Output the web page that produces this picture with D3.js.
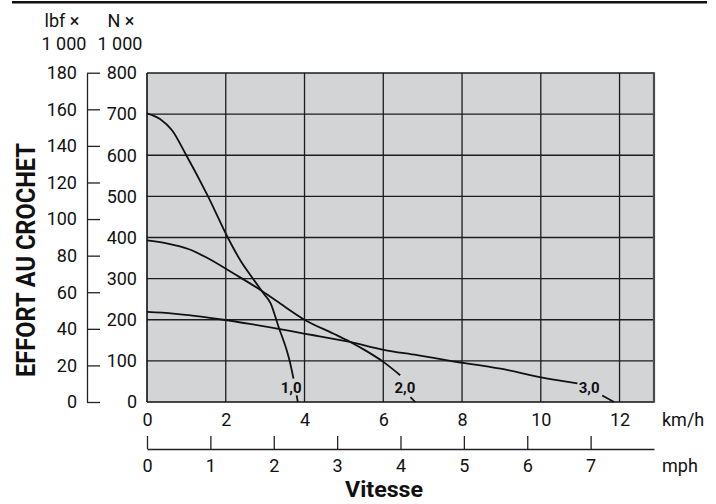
<!DOCTYPE html>
<html><head><meta charset="utf-8">
<script src="https://cdn.jsdelivr.net/npm/d3@7"></script>
<style>
html,body{margin:0;padding:0;background:#fff;}
svg{display:block;}
text{font-family:"Liberation Sans Narrow","Arial Narrow",Roboto,sans-serif;fill:#111;}
</style></head>
<body>
<svg id="c" width="716" height="504"></svg>
<script>
// ---- data (speed km/h, drawbar pull N x 1000) ----
const curve1Speed = [0, 0.33, 0.64, 0.97, 1.55, 2.05, 2.38, 2.66, 2.96, 3.14, 3.34, 3.55, 3.62, 3.72];
const curve1Force = [702, 688, 660, 605, 500, 400, 343, 304, 264, 240, 183, 125, 101, 57];
const curve1TailSpeed = [3.80, 3.83];
const curve1TailForce = [16, 0];
const curve2Speed = [0, 0.5, 1.05, 1.5, 2.19, 2.87, 3.3, 4.02, 4.74, 5.16, 5.5, 6.01, 6.43];
const curve2Force = [393, 386, 372, 352, 313, 273, 245, 199, 166, 146, 128, 97, 65];
const curve2TailSpeed = [6.69, 6.81];
const curve2TailForce = [12, 0];
const curve3Speed = [0, 0.67, 1.94, 2.61, 3.34, 3.89, 5.16, 6.01, 6.86, 7.7, 8.98, 10.04, 10.93];
const curve3Force = [219, 215, 200, 190, 178, 168, 146, 127, 114, 100, 81, 59, 45];
const curve3TailSpeed = [11.56, 11.86];
const curve3TailForce = [16, 0];
const curveLabels = ["1,0", "2,0", "3,0"];
const labelSpeed = [3.66, 6.55, 11.23];
const labelForce = [36, 36, 36];
const kmhTicks = [0, 2, 4, 6, 8, 10, 12];
const mphTicks = [0, 1, 2, 3, 4, 5, 6, 7];
const newtonTicks = [0, 100, 200, 300, 400, 500, 600, 700, 800];
const lbfTicks = [0, 20, 40, 60, 80, 100, 120, 140, 160, 180];

const svg = d3.select("#c");
const L = 147, R = 654, T = 73, B = 402;
const KMH_PER_MPH = 1.609344, N_PER_LBF = 4.44822;
const x = d3.scaleLinear().domain([0, 8 * KMH_PER_MPH]).range([L, R]);
const xMph = d3.scaleLinear().domain([0, 8]).range([L, R]);
const y = d3.scaleLinear().domain([0, 800]).range([B, T]);
const yLbf = d3.scaleLinear().domain([0, 800 / N_PER_LBF]).range([B, T]);

// top rule
svg.append("line").attr("x1", 12).attr("x2", 707).attr("y1", 2.2).attr("y2", 2.2)
  .attr("stroke", "#111").attr("stroke-width", 2.4);

// plot background
svg.append("rect").attr("x", L).attr("y", T).attr("width", R - L).attr("height", B - T)
  .attr("fill", "#d3d4d6");

// grid
const g = svg.append("g");
g.selectAll("line.v").data(kmhTicks.filter(d => d > 0)).join("line")
  .attr("x1", d => x(d)).attr("x2", d => x(d)).attr("y1", T).attr("y2", B)
  .attr("stroke", "#1c1c1c").attr("stroke-width", 1.3);
g.selectAll("line.h").data(newtonTicks.filter(d => d > 0)).join("line")
  .attr("x1", L).attr("x2", R).attr("y1", d => y(d)).attr("y2", d => y(d))
  .attr("stroke", "#1c1c1c").attr("stroke-width", 1.3);
// borders
svg.append("line").attr("x1", L).attr("x2", L).attr("y1", T).attr("y2", B).attr("stroke", "#111").attr("stroke-width", 1.6);
svg.append("line").attr("x1", L).attr("x2", R).attr("y1", B).attr("y2", B).attr("stroke", "#111").attr("stroke-width", 1.6);
svg.append("line").attr("x1", R).attr("x2", R).attr("y1", T - 0.8).attr("y2", B + 0.8).attr("stroke", "#4a4a4a").attr("stroke-width", 2.2);

// curves
const line = d3.line().x(d => x(d[0])).y(d => y(d[1])).curve(d3.curveMonotoneX);
const zip = (a, b) => a.map((v, i) => [v, b[i]]);
const segs = [
  zip(curve1Speed, curve1Force), zip(curve1TailSpeed, curve1TailForce),
  zip(curve2Speed, curve2Force), zip(curve2TailSpeed, curve2TailForce),
  zip(curve3Speed, curve3Force), zip(curve3TailSpeed, curve3TailForce)
];
svg.append("g").selectAll("path").data(segs).join("path")
  .attr("d", line).attr("fill", "none").attr("stroke", "#111").attr("stroke-width", 1.8);

svg.append("g").selectAll("text").data(curveLabels).join("text")
  .attr("x", (d, i) => x(labelSpeed[i])).attr("y", (d, i) => y(labelForce[i]))
  .attr("text-anchor", "middle").attr("dy", "0.36em")
  .attr("font-size", 15).attr("font-weight", "bold").text(d => d);

// left axes
const axLbf = d3.axisLeft(yLbf).tickValues(lbfTicks).tickSizeInner(-13).tickSizeOuter(0).tickPadding(10);
const gl = svg.append("g").attr("transform", "translate(87,0)").call(axLbf);
const axN = d3.axisLeft(y).tickValues(newtonTicks).tickSize(0).tickPadding(10);
const gn = svg.append("g").attr("transform", `translate(${L},0)`).call(axN);
gn.select(".domain").remove();
// bottom axes
const axK = d3.axisBottom(x).tickValues(kmhTicks).tickSize(0).tickPadding(11);
const gk = svg.append("g").attr("transform", `translate(0,${B})`).call(axK);
gk.select(".domain").remove();
const axM = d3.axisBottom(xMph).tickValues(mphTicks).tickSizeInner(-13).tickSizeOuter(0).tickPadding(10);
const gm = svg.append("g").attr("transform", "translate(0,449)").call(axM);

[gl, gn, gk, gm].forEach(a => {
  a.selectAll("text").attr("font-size", 18).attr("font-family", null).attr("fill", "#111");
  a.attr("font-family", null);
  a.selectAll("line,path").attr("stroke", "#222").attr("stroke-width", 1.3);
});

// unit labels
const unit = (t, xx, yy, anchor) => svg.append("text").attr("x", xx).attr("y", yy)
  .attr("text-anchor", anchor).attr("dy", "0.36em").attr("font-size", 18).text(t);
unit("lbf ×", 62, 21, "middle");
unit("1 000", 64, 43.5, "middle");
unit("N ×", 121, 21, "middle");
unit("1 000", 120, 43.5, "middle");
unit("km/h", 662, 420, "start");
unit("mph", 662, 466, "start");

// titles
svg.append("text").attr("x", 384).attr("y", 489).attr("dy", "0.36em")
  .attr("text-anchor", "middle").attr("font-size", 22).attr("font-weight", "bold")
  .attr("textLength", 78).attr("lengthAdjust", "spacingAndGlyphs").text("Vitesse");
svg.append("text").attr("transform", "translate(26,260) rotate(-90)").attr("dy", "0.36em")
  .attr("text-anchor", "middle").attr("font-size", 25).attr("font-weight", "bold")
  .attr("textLength", 234).attr("lengthAdjust", "spacingAndGlyphs").text("EFFORT AU CROCHET");
</script>
</body></html>
